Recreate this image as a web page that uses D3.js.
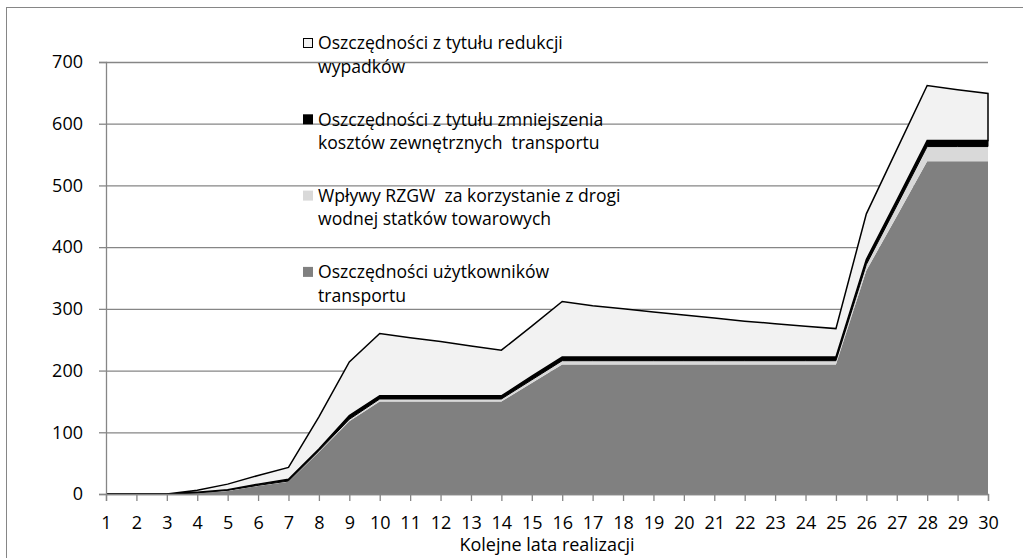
<!DOCTYPE html>
<html>
<head>
<meta charset="utf-8">
<script src="https://cdn.jsdelivr.net/npm/d3@7"></script>
<style>
  body { margin: 0; background: #fff; }
  svg text { font-family: 'Open Sans', sans-serif; fill: #000; white-space: pre; }
</style>
</head>
<body>
<svg id="chart" width="1023" height="558"></svg>
<script>
'use strict';

// kolejne lata realizacji
const years = d3.range(1, 31);

// wartości (dolna warstwa -> górna)
const users     = [0, 0, 0, 2, 5, 13, 20, 68, 118, 150, 150, 150, 150, 150, 180,
                   210, 210, 210, 210, 210, 210, 210, 210, 210, 210, 362, 450, 539, 539, 539];
const rzgw      = [0, 0, 0, 0, 1, 1, 1, 2, 3, 4, 4, 4, 4, 4, 5,
                   6, 6, 6, 6, 6, 6, 6, 6, 6, 6, 10, 17, 24, 24, 24];
const external  = [0, 0, 0, 1, 1, 2, 3, 3, 6, 5, 5, 5, 5, 5, 6,
                   6, 6, 6, 6, 6, 6, 6, 6, 6, 6, 8, 9, 10, 10, 10];
const accidents = [0, 0, 0, 3, 9, 14, 19, 52, 87, 101, 94, 88, 81, 74, 81,
                   90, 83, 78, 73, 68, 63, 58, 54, 50, 46, 74, 82, 89, 82, 76];

const yTicks = [0, 100, 200, 300, 400, 500, 600, 700];

const keys   = ['users', 'rzgw', 'external', 'accidents'];
const fills  = { users: '#808080', rzgw: '#d9d9d9', external: '#000000', accidents: '#f2f2f2' };
const labels = {
  accidents: ['Oszczędności z tytułu redukcji', 'wypadków'],
  external:  ['Oszczędności z tytułu zmniejszenia', 'kosztów zewnętrznych  transportu'],
  rzgw:      ['Wpływy RZGW  za korzystanie z drogi', 'wodnej statków towarowych'],
  users:     ['Oszczędności użytkowników', 'transportu']
};

const rows = years.map((y, i) => ({
  year: y, users: users[i], rzgw: rzgw[i], external: external[i], accidents: accidents[i]
}));

const margin = { left: 106, right: 35, top: 62, bottom: 64 };
const W = 1023, H = 558;

const svg = d3.select('#chart');

svg.append('rect')
   .attr('x', 6.5).attr('y', 7.5)
   .attr('width', 1040).attr('height', 570)
   .attr('fill', '#fff')
   .attr('stroke', '#868686');

const x = d3.scaleLinear().domain([1, 30]).range([margin.left, W - margin.right]);
const y = d3.scaleLinear().domain([0, 700]).range([H - margin.bottom, margin.top]);

// siatka
svg.append('g')
   .attr('transform', 'translate(' + margin.left + ',0)')
   .call(d3.axisLeft(y).tickValues(yTicks).tickSize(-(x(30) - x(1))).tickFormat(''))
   .call(g => g.select('.domain').remove())
   .call(g => g.selectAll('line').attr('stroke', '#868686').attr('stroke-width', 1.3));

const stack = d3.stack().keys(keys);
const series = stack(rows);

const area = d3.area()
  .x(d => x(d.data.year))
  .y0(d => y(d[0]))
  .y1(d => y(d[1]));

svg.append('g')
   .selectAll('path')
   .data(series)
   .join('path')
   .attr('d', area)
   .attr('fill', d => fills[d.key])
   .attr('stroke', d => (d.key === 'accidents' || d.key === 'external') ? '#000' : 'none')
   .attr('stroke-width', d => d.key === 'accidents' ? 1.5 : 1)
   .attr('stroke-linejoin', 'miter');

// oś Y
svg.append('g')
   .attr('transform', 'translate(' + margin.left + ',0)')
   .call(d3.axisLeft(y).tickValues(yTicks).tickSize(7).tickPadding(16))
   .call(g => g.select('.domain').attr('stroke', '#868686').attr('stroke-width', 1.3))
   .call(g => g.selectAll('line').attr('stroke', '#868686').attr('stroke-width', 1.3))
   .call(g => g.selectAll('text').attr('font-size', 18).attr('font-family', "'Open Sans', sans-serif"));

// oś X
svg.append('g')
   .attr('transform', 'translate(0,' + y(0) + ')')
   .call(d3.axisBottom(x).tickValues(years).tickFormat(d3.format('d')).tickSize(7).tickPadding(15))
   .call(g => g.select('.domain').attr('stroke', '#868686').attr('stroke-width', 1.3))
   .call(g => g.selectAll('line').attr('stroke', '#868686').attr('stroke-width', 1.3))
   .call(g => g.selectAll('text').attr('font-size', 18).attr('font-family', "'Open Sans', sans-serif"));

svg.append('text')
   .attr('x', (x(1) + x(30)) / 2)
   .attr('y', 551)
   .attr('text-anchor', 'middle')
   .attr('font-size', 18)
   .text('Kolejne lata realizacji');

// legenda
const legendOrder = ['accidents', 'external', 'rzgw', 'users'];
const legend = svg.append('g').attr('transform', 'translate(303,43)');

legendOrder.forEach((k, i) => {
  const g = legend.append('g').attr('transform', 'translate(0,' + (i * 76.3) + ')');
  g.append('rect')
   .attr('x', k === 'accidents' ? 0.5 : 0)
   .attr('y', k === 'accidents' ? -4.5 : -5)
   .attr('width', k === 'accidents' ? 9 : 10)
   .attr('height', k === 'accidents' ? 9 : 10)
   .attr('fill', fills[k])
   .attr('stroke', k === 'accidents' ? '#000' : 'none');
  labels[k].forEach((line, j) => {
    g.append('text')
     .attr('x', 15)
     .attr('y', j * 23.5)
     .attr('dy', '0.36em')
     .attr('font-size', 17.6)
     .text(line);
  });
});
</script>
</body>
</html>
